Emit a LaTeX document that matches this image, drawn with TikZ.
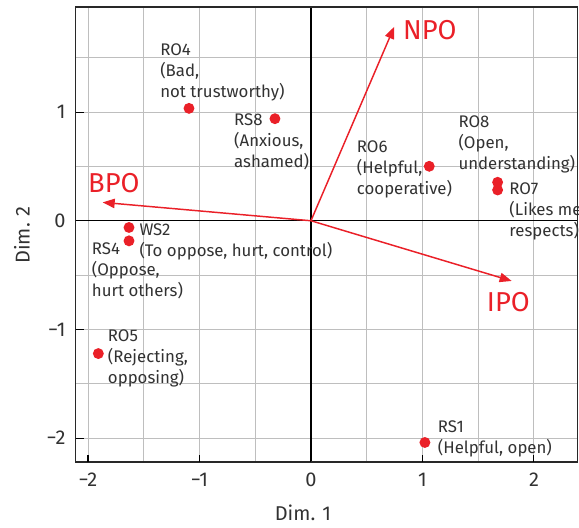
\documentclass[tikz,border=0pt]{standalone}
\usepackage{fontspec}
\setmainfont{Fira Sans}
\usepackage{xcolor}
\usetikzlibrary{arrows.meta, positioning}
\definecolor{vecred}{RGB}{234,32,40}
\definecolor{txtgray}{RGB}{50,50,50}
\definecolor{gridgray}{RGB}{190,190,190}

\begin{document}
\begin{tikzpicture}[
    x=2.939cm, y=2.865cm,
    dot/.style={circle, fill=vecred, inner sep=0pt, minimum size=8.2pt},
    lbl/.style={anchor=north west, inner sep=0pt, align=left, text=txtgray, font=\fontsize{12.6}{15.75}\selectfont},
    vec/.style={draw=vecred, line width=1.1pt, -{Triangle[length=9pt, width=7pt]}},
    veclbl/.style={text=vecred, font=\fontsize{20.5}{22}\selectfont},
    tick/.style={text=txtgray, font=\fontsize{15}{17}\selectfont}
]
    \useasboundingbox (-2.789,-2.826) rectangle (2.404,2.031);

    % grid and axes
    \foreach \gx in {-2,-1.5,...,2}
        \draw[gridgray, line width=0.7pt] (\gx,-2.22) -- (\gx,1.967);
    \foreach \gy in {-2,-1.5,...,1.5}
        \draw[gridgray, line width=0.7pt] (-2.11,\gy) -- (2.39,\gy);
    \draw[black, line width=1pt] (0,-2.22) -- (0,1.967);
    \draw[black, line width=1pt] (-2.11,0) -- (2.39,0);
    \draw[txtgray!80!black, line width=1.1pt] (-2.11,-2.22) rectangle (2.39,1.967);

    % ticks
    \foreach \t/\s in {-2/−2,-1/−1,0/0,1/1} {
        \draw[black, line width=0.8pt] (-2.11,\t) -- (-2.04,\t);
        \node[tick, anchor=east] (ylab\t) at (-2.16,\t) {\s};
    }
    \foreach \t/\s in {-2/−2,-1/−1,0/0,1/1,2/2} {
        \draw[black, line width=0.8pt] (\t,-2.22) -- (\t,-2.155);
        \node[tick] (xlab\t) at (\t,-2.382) {\s};
    }
    \node[tick] (xtitle) at (-0.072,-2.69) {Dim. 1};
    \node[tick, rotate=90] (ytitle) at (-2.592,-0.13) {Dim. 2};

    % vectors
    \coordinate (origin) at (0,0);
    \coordinate (npotip) at (0.747,1.785);
    \coordinate (bpotip) at (-1.868,0.169);
    \coordinate (ipotip) at (1.80,-0.554);
    \draw[vec] (origin) -- (npotip);
    \draw[vec] (origin) -- (bpotip);
    \draw[vec] (origin) -- (ipotip);
    \node[veclbl] (npo) at (1.067,1.754) {NPO};
    \node[veclbl] (bpo) at (-1.767,0.342) {BPO};
    \node[veclbl] (ipo) at (1.771,-0.745) {IPO};

    % points
    \node[dot] (ro4) at (-1.094,1.034) {};
    \node[dot] (rs8) at (-0.323,0.939) {};
    \node[dot] (ws2) at (-1.632,-0.062) {};
    \node[dot] (rs4) at (-1.632,-0.185) {};
    \node[dot] (ro5) at (-1.907,-1.222) {};
    \node[dot] (ro6) at (1.061,0.501) {};
    \node[dot] (ro8) at (1.674,0.354) {};
    \node[dot] (ro7) at (1.674,0.283) {};
    \node[dot] (rs1) at (1.022,-2.04) {};

    % point labels
    \node[lbl] (ro4lbl) at (-1.354,1.634) {RO4\\(Bad,\\not trustworthy)};
    \node[lbl] (rs8lbl) at (-0.691,0.985) {RS8\\(Anxious,\\ashamed)};
    \node[lbl] (ro6lbl) at (0.410,0.739) {RO6\\(Helpful,\\cooperative)};
    \node[lbl] (ro8lbl) at (1.321,0.970) {RO8\\(Open,\\understanding)};
    \node[lbl] (ro7lbl) at (1.778,0.354) {RO7\\(Likes me\\respects)};
    \node[lbl] (ws2lbl) at (-1.540,-0.025) {WS2\\(To oppose, hurt, control)};
    \node[lbl] (rs4lbl) at (-1.967,-0.200) {RS4\\(Oppose,\\hurt others)};
    \node[lbl] (ro5lbl) at (-1.823,-1.000) {RO5\\(Rejecting,\\opposing)};
    \node[lbl] (rs1lbl) at (1.136,-1.837) {RS1\\(Helpful, open)};
\end{tikzpicture}
\end{document}
